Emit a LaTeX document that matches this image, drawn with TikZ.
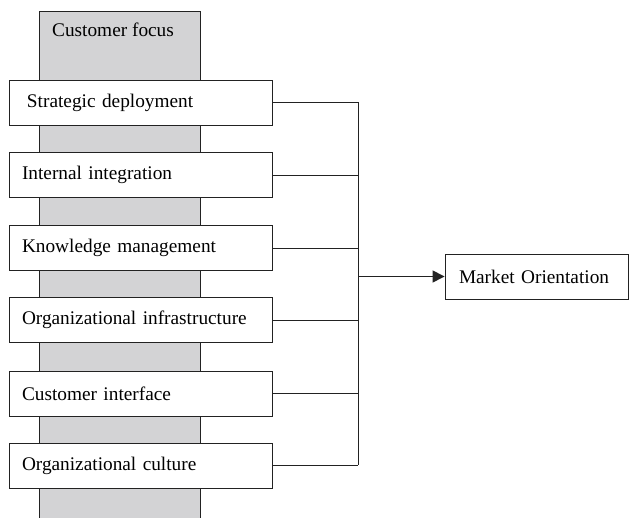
\documentclass[tikz,border=0pt]{standalone}
\usepackage{fontspec}
\setmainfont{Liberation Serif}
\usetikzlibrary{arrows.meta}
\definecolor{colgray}{HTML}{D3D3D5}
\definecolor{lncol}{HTML}{222222}
\tikzset{
  factor/.style={draw=lncol, line width=0.9pt, fill=white, minimum width=263pt, minimum height=45pt,
    text width=237pt, inner xsep=13pt, align=left, font=\fontsize{19.3}{22}\selectfont},
  target/.style={draw=lncol, line width=0.9pt, fill=white, minimum width=183pt, minimum height=45pt,
    text width=155pt, inner xsep=14pt, align=left, font=\fontsize{19.3}{22}\selectfont},
  link/.style={draw=lncol, line width=0.9pt}
}
\begin{document}
\begin{tikzpicture}[x=1pt,y=1pt]
\useasboundingbox (0,0) rectangle (629,518);
% customer focus column
\fill[colgray] (39,0) rectangle (200,506);
\draw[lncol, line width=1pt] (39,0) -- (39,506) -- (200,506) -- (200,0);
\node[anchor=base west, inner sep=0pt, font=\fontsize{19.3}{22}\selectfont] (cf) at (52,481) {Customer focus};
% factor boxes
\node[factor] (b1) at (140.5,415.5) {\hspace{5pt}Strategic deployment};
\node[factor] (b2) at (140.5,343) {Internal integration};
\node[factor] (b3) at (140.5,270) {Knowledge management};
\node[factor] (b4) at (140.5,198) {Organizational infrastructure};
\node[factor] (b5) at (140.5,124.5) {Customer interface};
\node[factor] (b6) at (140.5,52.5) {Organizational culture};
% target
\node[target] (mo) at (536.5,241.5) {Market Orientation};
% bus
\coordinate (bt) at (358,415.5);
\coordinate (bb) at (358,52.5);
\foreach \b in {b1,b2,b3,b4,b5,b6} {
  \draw[link] (\b.east) -- (\b.east -| bt);
}
\draw[link] (bt) -- (bb);
\draw[link, line width=1.4pt, -{Triangle[length=12pt,width=12pt]}] (mo.west -| bt) -- (mo.west);
\end{tikzpicture}
\end{document}
